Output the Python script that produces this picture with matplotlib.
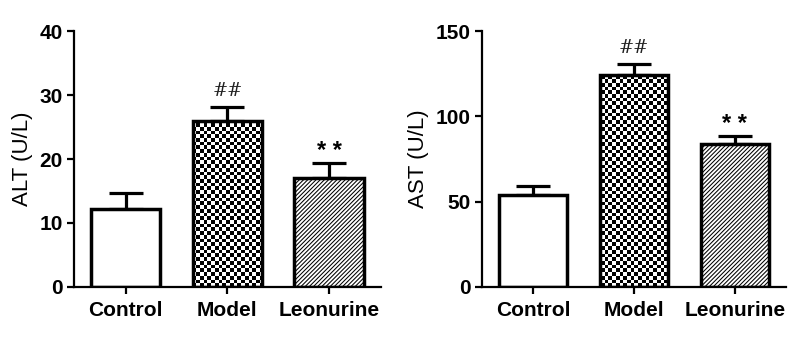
import numpy as np
import matplotlib
matplotlib.use("Agg")
import matplotlib.pyplot as plt

categories = ["Control", "Model", "Leonurine"]
alt_mean = [12.2, 26.0, 17.0]
alt_err = [2.5, 2.1, 2.4]
ast_mean = [54.2, 124.2, 84.1]
ast_err = [5.0, 6.6, 4.5]
alt_marks = ["", "##", "* *"]
ast_marks = ["", "##", "* *"]
alt_ticks = [0, 10, 20, 30, 40]
ast_ticks = [0, 50, 100, 150]

plt.rcParams['font.family'] = ['Liberation Sans', 'DejaVu Sans']
plt.rcParams['hatch.linewidth'] = 0.75
plt.rcParams['hatch.color'] = '#111111'

fig = plt.figure(figsize=(8.0, 3.38), dpi=100)
ax1 = fig.add_axes([0.0925, 0.151, 0.476 - 0.0925, 0.908 - 0.151])
ax2 = fig.add_axes([0.602, 0.151, 0.983 - 0.602, 0.908 - 0.151])


def checker_fill(ax, bar, cell_px=3.7):
    bb = ax.get_window_extent()
    nx = int(round(bb.width / cell_px))
    ny = int(round(bb.height / cell_px))
    img = np.add.outer(np.arange(ny), np.arange(nx)) % 2
    im = ax.imshow(img, cmap='gray', extent=(0, 1, 0, 1), transform=ax.transAxes,
                   interpolation='nearest', aspect='auto', zorder=1.5)
    im.set_clip_path(bar)


def panel(ax, means, errs, marks, ticks, ylabel):
    x = np.arange(len(categories))
    bars = ax.bar(x, means, width=0.68, facecolor='white', edgecolor='black',
                  linewidth=2.5, zorder=2)
    bars[2].set_hatch('////////')
    bars[1].set_facecolor('none')
    ax.errorbar(x, means, yerr=[np.zeros(len(errs)), errs], fmt='none',
                ecolor='black', elinewidth=2.3, capsize=12, capthick=2.3, zorder=1)
    for xi, m, e, t in zip(x, means, errs, marks):
        if t:
            if t.startswith('#'):
                ax.annotate(t, (xi, m + e), xytext=(0, 5), textcoords='offset points',
                            ha='center', va='bottom', fontsize=13,
                            family=['DejaVu Serif'], color='#222222')
            else:
                ax.annotate(t, (xi, m + e), xytext=(0, 0), textcoords='offset points',
                            ha='center', va='bottom', fontsize=17, fontweight='bold')
    ax.set_xlim(-0.51, 2.51)
    ax.set_ylim(ticks[0], ticks[-1])
    ax.set_yticks(ticks)
    ax.set_xticks(x)
    ax.set_xticklabels(categories)
    for lab in ax.get_xticklabels() + ax.get_yticklabels():
        lab.set_fontweight('bold')
        lab.set_fontsize(15)
    ax.set_ylabel(ylabel, fontsize=16, labelpad=5)
    for s in ['top', 'right']:
        ax.spines[s].set_visible(False)
    for s in ['left', 'bottom']:
        ax.spines[s].set_linewidth(1.6)
    ax.tick_params(axis='both', length=5, width=1.6, direction='out')
    ax.tick_params(axis='x', pad=5)
    ax.tick_params(axis='y', pad=3)
    return bars


b1 = panel(ax1, alt_mean, alt_err, alt_marks, alt_ticks, "ALT (U/L)")
b2 = panel(ax2, ast_mean, ast_err, ast_marks, ast_ticks, "AST (U/L)")
checker_fill(ax1, b1[1])
checker_fill(ax2, b2[1])
ax1.set_xlim(-0.51, 2.51); ax1.set_ylim(0, 40)
ax2.set_xlim(-0.51, 2.51); ax2.set_ylim(0, 150)

fig.savefig("out.png", dpi=100)
